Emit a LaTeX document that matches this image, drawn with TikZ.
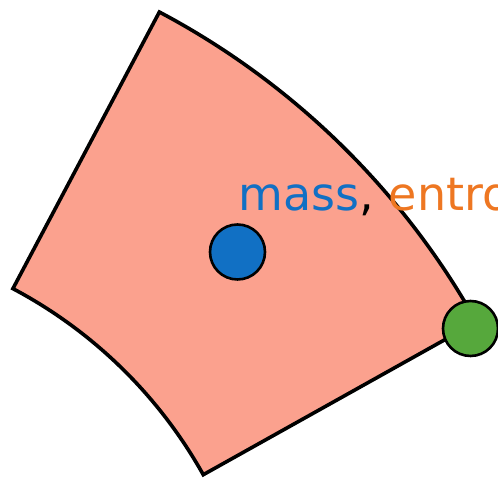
\documentclass[tikz,border=0pt]{standalone}
\usepackage{fontspec}
\setmainfont{DejaVu Sans}
\definecolor{salmonfill}{HTML}{FBA18E}
\definecolor{massblue}{HTML}{1170C4}
\definecolor{entorange}{HTML}{EE7722}
\definecolor{dotgreen}{HTML}{56A83C}
\tikzset{
  cell/.style={fill=salmonfill, draw=black, line width=3.6pt, line join=miter},
  dot/.style={circle, draw=black, line width=2.6pt, minimum size=55pt, inner sep=0pt},
}
\begin{document}
\begin{tikzpicture}[x=1pt,y=1pt]
\useasboundingbox (0,0) rectangle (498,478);
\clip (0,0) rectangle (498,478);
\coordinate (C) at (-207,-226);
\path[cell] ([shift={(62.1:783)}]C) arc[start angle=62.1, end angle=29.2, radius=783]
  -- ([shift={(29.2:470)}]C) arc[start angle=29.2, end angle=62.1, radius=470] -- cycle;
\node[dot, fill=massblue] (mass) at (237.5,226) {};
\node[anchor=base west, inner sep=0pt, font=\fontsize{46}{52}\selectfont] (lbl) at (238.5,267.3)
  {\textcolor{massblue}{mass}, \textcolor{entorange}{entropy}};
\node[dot, fill=dotgreen] (pt) at (470.5,149.5) {};
\end{tikzpicture}
\end{document}
